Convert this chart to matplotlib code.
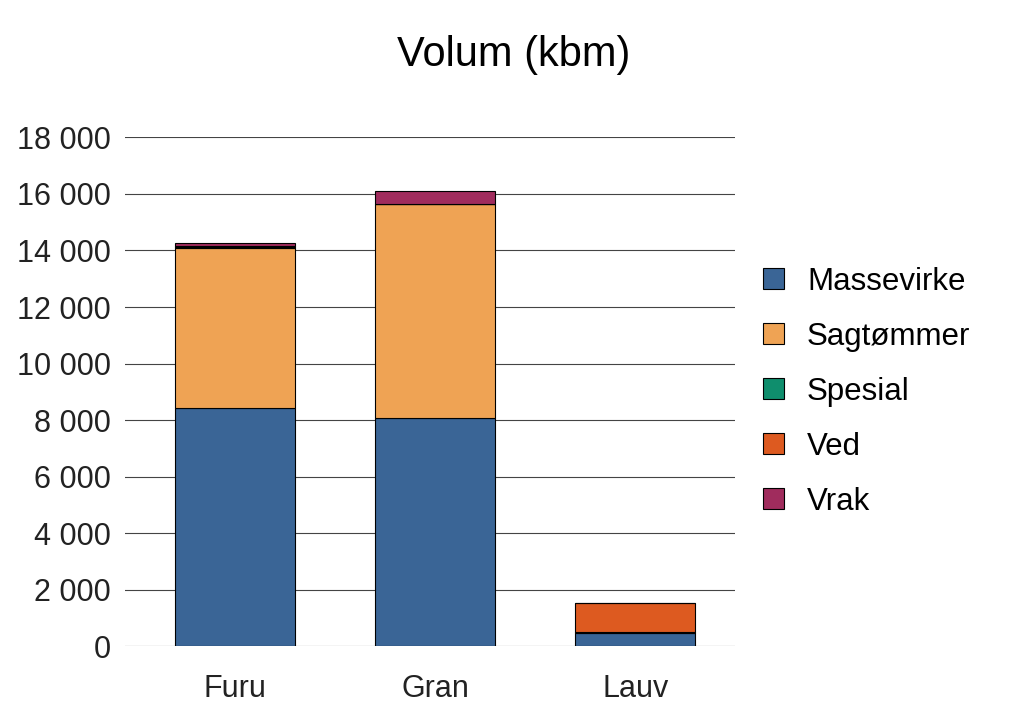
import numpy as np
import matplotlib.pyplot as plt
from matplotlib.ticker import FuncFormatter

plt.rcParams['font.family'] = ['Liberation Sans', 'DejaVu Sans']

kategorier = ['Furu', 'Gran', 'Lauv']
sortiment = ['Massevirke', 'Sagtømmer', 'Spesial', 'Ved', 'Vrak']
massevirke = [8420, 8060, 460]
sagtommer = [5650, 7600, 40]
spesial = [60, 0, 0]
ved = [20, 0, 1030]
vrak = [100, 430, 0]
farger = ['#3a6596', '#efa354', '#0f8e6d', '#dd5a20', '#a02c5d']

serier = [massevirke, sagtommer, spesial, ved, vrak]

fig = plt.figure(figsize=(10.24, 7.19), dpi=100)
ax = fig.add_axes([0.122, 0.101, 0.596, 0.708])
x = np.arange(len(kategorier))
bunn = np.zeros(len(kategorier))
for navn, verdier, farge in zip(sortiment, serier, farger):
    ax.bar(x, verdier, 0.6, bottom=bunn, color=farge, edgecolor='black',
           linewidth=0.8, label=navn, zorder=3)
    bunn += np.array(verdier)

ax.set_ylim(0, 18000)
ax.set_xlim(-0.55, 2.5)
ax.set_yticks(range(0, 18001, 2000))
ax.yaxis.set_major_formatter(FuncFormatter(lambda v, p: f'{int(v):,}'.replace(',', ' ')))
ax.set_xticks(x)
ax.set_xticklabels(kategorier)
ax.tick_params(axis='both', length=0, labelsize=22, colors='#222222')
ax.tick_params(axis='x', pad=20)
ax.tick_params(axis='y', pad=10)
ax.grid(axis='y', color='#444444', linewidth=0.8, zorder=0)
for s in ax.spines.values():
    s.set_visible(False)

fig.suptitle('Volum (kbm)', fontsize=30, y=0.923, x=0.502, va='center')
ax.legend(loc='center left', bbox_to_anchor=(1.0, 0.5), frameon=False,
          fontsize=22.5, handlelength=0.65, handleheight=0.65, labelspacing=0.8,
          handletextpad=0.75)
fig.savefig('out.png', dpi=100)
